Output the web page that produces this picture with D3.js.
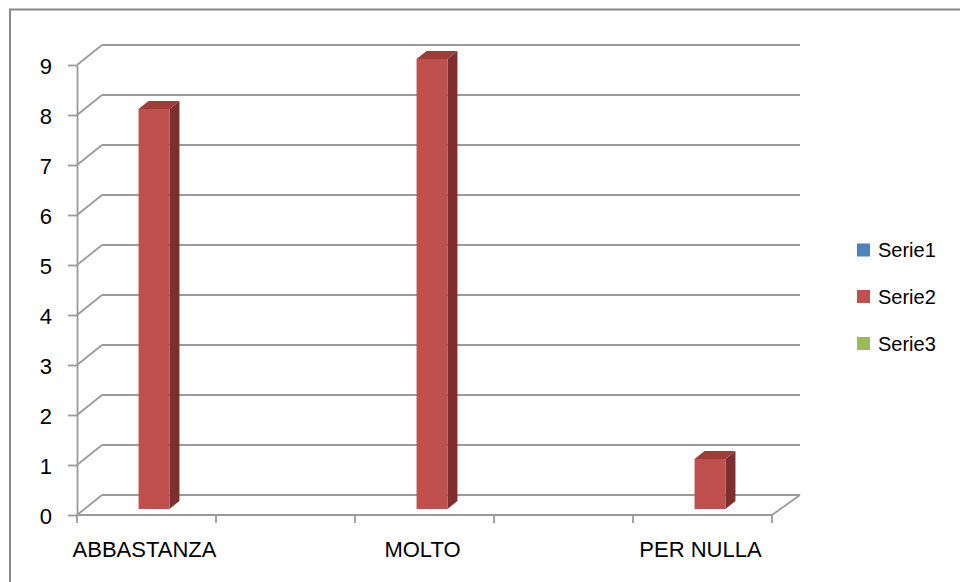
<!DOCTYPE html>
<html>
<head>
<meta charset="utf-8">
<script src="https://cdn.jsdelivr.net/npm/d3@7"></script>
<style>
  body { margin: 0; background: #fff; }
  text { font-family: "Liberation Sans", Arial, sans-serif; fill: #000; }
</style>
</head>
<body>
<svg id="chart" width="960" height="582"></svg>
<script>
// data
var categories = ["ABBASTANZA", "", "MOLTO", "", "PER NULLA"];
var seriesNames = ["Serie1", "Serie2", "Serie3"];
var serie1 = [null, null, null, null, null];
var serie2 = [8, null, 9, null, 1];
var serie3 = [null, null, null, null, null];
var yTicks = [0, 1, 2, 3, 4, 5, 6, 7, 8, 9];

var seriesValues = [serie1, serie2, serie3];
var seriesColors = ["#4F81BD", "#C0504D", "#9BBB59"];
var topColors = ["#3B6391", "#9C3D3A", "#779141"];
var sideColors = ["#2E4D72", "#7E2F2D", "#5E7333"];

var svg = d3.select("#chart");

// outer frame
svg.append("rect")
    .attr("x", 10).attr("y", 9.5)
    .attr("width", 980).attr("height", 600)
    .attr("fill", "none")
    .attr("stroke", "#888")
    .attr("stroke-width", 2);

var depthX = 25, depthY = -20;   // oblique offset of the back wall
function dx(f) { return depthX * f; }
function dy(f) { return depthY * f; }

var y = d3.scaleLinear().domain([0, 9]).range([515, 65]);
var x = d3.scaleBand().domain(d3.range(categories.length)).range([77, 772]).padding(0);
var xs = d3.scaleBand().domain(seriesNames).range([0, x.bandwidth()])
    .paddingInner(0).paddingOuter(0.75);

var gridColor = "#9a9a9a";
var grid = svg.append("g").attr("stroke", gridColor).attr("stroke-width", 1.8).attr("fill", "none");

// back wall gridlines + left wall diagonals
yTicks.forEach(function(t) {
    grid.append("line")
        .attr("x1", 77 + dx(1)).attr("x2", 772 + dx(1) + 3)
        .attr("y1", y(t) + dy(1)).attr("y2", y(t) + dy(1));
    grid.append("line")
        .attr("x1", 77).attr("x2", 77 + dx(1))
        .attr("y1", y(t)).attr("y2", y(t) + dy(1));
});

// floor right edge
grid.append("line")
    .attr("x1", 772).attr("x2", 772 + dx(1) + 3)
    .attr("y1", y(0)).attr("y2", y(0) + dy(1));

// bars
var bars = svg.append("g");
seriesValues.forEach(function(vals, si) {
    vals.forEach(function(v, ci) {
        if (v == null) return;
        var x0 = x(ci) + xs(seriesNames[si]) + dx(0.3);
        var x1 = x0 + xs.bandwidth();
        var yTop = y(v) + dy(0.3);
        var yBot = y(0) + dy(0.3);
        var ox = dx(0.4), oy = dy(0.4);
        // right side
        bars.append("path")
            .attr("d", "M" + x1 + "," + yBot + "L" + x1 + "," + yTop +
                "L" + (x1 + ox) + "," + (yTop + oy) + "L" + (x1 + ox) + "," + (yBot + oy) + "Z")
            .attr("fill", sideColors[si]);
        // top
        bars.append("path")
            .attr("d", "M" + x0 + "," + yTop + "L" + (x0 + ox) + "," + (yTop + oy) +
                "L" + (x1 + ox) + "," + (yTop + oy) + "L" + x1 + "," + yTop + "Z")
            .attr("fill", topColors[si]);
        // front
        bars.append("rect")
            .attr("x", x0).attr("y", yTop)
            .attr("width", x1 - x0).attr("height", yBot - yTop)
            .attr("fill", seriesColors[si]);
    });
});

// value axis
var yAxis = svg.append("g")
    .attr("transform", "translate(77,0)")
    .call(d3.axisLeft(y).tickValues(yTicks).tickFormat(d3.format("d"))
        .tickSize(9).tickSizeOuter(0).tickPadding(16));
yAxis.selectAll("path, line").attr("stroke", gridColor).attr("stroke-width", 1.8);
yAxis.selectAll("text")
    .attr("dy", "0.38em")
    .style("font-family", "'Liberation Sans', Arial, sans-serif")
    .style("font-size", "22px")
    .attr("fill", "#000");

// category axis
var xAxis = svg.append("g");
xAxis.append("line")
    .attr("x1", 77).attr("x2", 772)
    .attr("y1", y(0)).attr("y2", y(0))
    .attr("stroke", gridColor).attr("stroke-width", 1.8);
var boundaries = d3.range(categories.length).map(function(i) { return x(i); }).concat([x.range()[1]]);
xAxis.selectAll(".tick")
    .data(boundaries)
    .enter().append("line")
    .attr("x1", function(d) { return d; }).attr("x2", function(d) { return d; })
    .attr("y1", y(0)).attr("y2", y(0) + 8)
    .attr("stroke", gridColor).attr("stroke-width", 1.8);
xAxis.selectAll(".lbl")
    .data(categories)
    .enter().append("text")
    .attr("x", function(d, i) { return x(i) + x.bandwidth() / 2 - 2; })
    .attr("y", 557)
    .attr("text-anchor", "middle")
    .style("font-size", "22px")
    .text(function(d) { return d; });

// legend
var legendY = [250, 296.5, 343.5];
var legend = svg.append("g");
seriesNames.forEach(function(name, i) {
    legend.append("rect")
        .attr("x", 857).attr("y", legendY[i] - 6.5)
        .attr("width", 13).attr("height", 13)
        .attr("fill", seriesColors[i]);
    legend.append("text")
        .attr("x", 878).attr("y", legendY[i])
        .attr("dy", "0.35em")
        .style("font-size", "20px")
        .text(name);
});
</script>
</body>
</html>
